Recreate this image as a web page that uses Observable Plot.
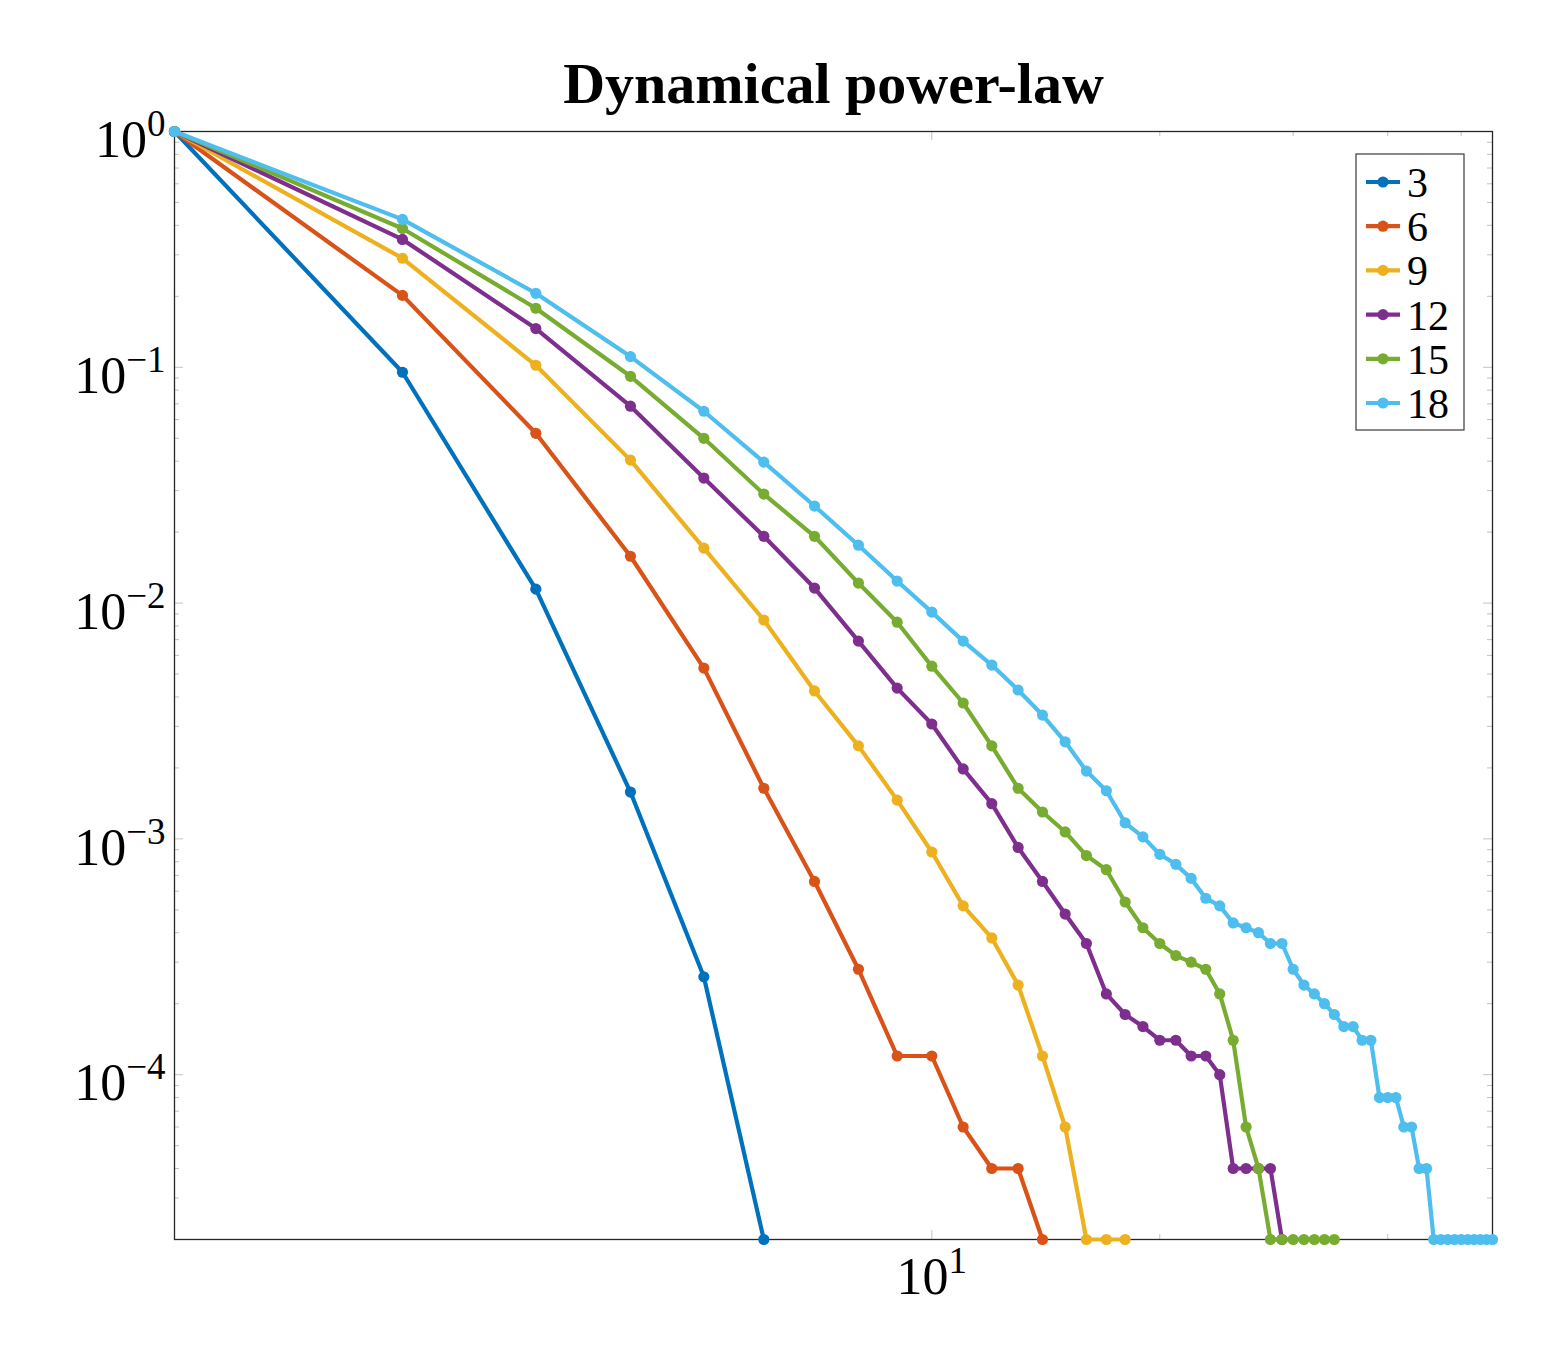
<!DOCTYPE html>
<html>
<head>
<meta charset="utf-8">
<script src="https://cdn.jsdelivr.net/npm/d3@7"></script>
<script src="https://cdn.jsdelivr.net/npm/@observablehq/plot@0.6"></script>
<style>
  body { margin: 0; background: #fff; }
  #chart { width: 1554px; height: 1360px; }
</style>
</head>
<body>
<div id="chart"></div>
<script>
// Series labels and their colours
const sizes = [3, 6, 9, 12, 15, 18];
const colors = ["#0072BD", "#D95319", "#EDB120", "#7E2F8E", "#77AC30", "#4DBEEE"];

// Probability at k = 1, 2, 3, ... for each series
const p3 = [1, 0.0953, 0.01146, 0.00158, 2.6e-4, 2e-5];
const p6 = [1, 0.2018, 0.0525, 0.0158, 0.0053, 0.00164, 6.6e-4, 2.8e-4, 1.2e-4, 1.2e-4,
  6e-5, 4e-5, 4e-5, 2e-5];
const p9 = [1, 0.290, 0.102, 0.0404, 0.0171, 0.00848, 0.00424, 0.00248, 0.00146, 8.8e-4,
  5.2e-4, 3.8e-4, 2.4e-4, 1.2e-4, 6e-5, 2e-5, 2e-5, 2e-5];
const p12 = [1, 0.3486, 0.146, 0.0684, 0.0339, 0.0192, 0.01158, 0.0069, 0.00436, 0.00307,
  0.00198, 0.00141, 9.2e-4, 6.6e-4, 4.8e-4, 3.6e-4, 2.2e-4, 1.8e-4, 1.6e-4, 1.4e-4,
  1.4e-4, 1.2e-4, 1.2e-4, 1e-4, 4e-5, 4e-5, 4e-5, 4e-5, 2e-5];
const p15 = [1, 0.388, 0.178, 0.0916, 0.050, 0.029, 0.0192, 0.01216, 0.0083, 0.0054,
  0.00377, 0.00248, 0.00164, 0.0013, 0.00107, 8.5e-4, 7.4e-4, 5.4e-4, 4.2e-4, 3.6e-4,
  3.2e-4, 3e-4, 2.8e-4, 2.2e-4, 1.4e-4, 6e-5, 4e-5, 2e-5, 2e-5, 2e-5,
  2e-5, 2e-5, 2e-5, 2e-5];
const p18 = [1, 0.424, 0.206, 0.111, 0.0651, 0.0396, 0.0258, 0.0176, 0.0124, 0.00916,
  0.0069, 0.00546, 0.00428, 0.00335, 0.00258, 0.00194, 0.0016, 0.00117, 0.00102, 8.6e-4,
  7.8e-4, 6.8e-4, 5.6e-4, 5.2e-4, 4.4e-4, 4.2e-4, 4e-4, 3.6e-4, 3.6e-4, 2.8e-4,
  2.4e-4, 2.2e-4, 2e-4, 1.8e-4, 1.6e-4, 1.6e-4, 1.4e-4, 1.4e-4, 8e-5, 8e-5,
  8e-5, 6e-5, 6e-5, 4e-5, 4e-5, 2e-5, 2e-5, 2e-5, 2e-5, 2e-5,
  2e-5, 2e-5, 2e-5, 2e-5, 2e-5];
const seriesValues = [p3, p6, p9, p12, p15, p18];

// Axis ticks
const xDomain = [1, 55];
const yDomain = [2e-5, 1];
const xMajor = [10];
const xMinor = [20, 30, 40, 50];
const yMajor = [1, 0.1, 0.01, 0.001, 0.0001];
const yMinor = [];
for (let e = -5; e < 0; e++) {
  for (let m = 2; m <= 9; m++) {
    const v = m * Math.pow(10, e);
    if (v > yDomain[0] && v < yDomain[1]) yMinor.push(v);
  }
}

const W = 1554, H = 1360;
const M = {left: 174, right: 62, top: 131, bottom: 121};
const fw = W - M.left - M.right;   // frame width
const fh = H - M.top - M.bottom;   // frame height
const tickColor = "#c2c2c2";
const majorLen = 9, minorLen = 5;
const lineW = 4.2, dotR = 5.6;
const fontFamily = "'Liberation Serif', serif";

const expFormat = d => `10^${Math.round(Math.log10(d))}`.replace("-", "\u2212");

const rows = seriesValues.map((vals, s) => vals.map((p, i) => ({k: i + 1, p, n: sizes[s]})));

const marks = [
  // inward ticks on the left and right edges
  Plot.tickY(yMajor, {y: d => d, stroke: tickColor, insetRight: fw - majorLen}),
  Plot.tickY(yMajor, {y: d => d, stroke: tickColor, insetLeft: fw - majorLen}),
  Plot.tickY(yMinor, {y: d => d, stroke: tickColor, insetRight: fw - minorLen}),
  Plot.tickY(yMinor, {y: d => d, stroke: tickColor, insetLeft: fw - minorLen}),
  // inward ticks on the bottom and top edges
  Plot.tickX(xMajor, {x: d => d, stroke: tickColor, insetTop: fh - majorLen}),
  Plot.tickX(xMajor, {x: d => d, stroke: tickColor, insetBottom: fh - majorLen}),
  Plot.tickX(xMinor, {x: d => d, stroke: tickColor, insetTop: fh - minorLen}),
  Plot.tickX(xMinor, {x: d => d, stroke: tickColor, insetBottom: fh - minorLen}),
  Plot.frame({stroke: "#262626", strokeWidth: 1.3}),
  Plot.axisY({ticks: yMajor, tickSize: 0, tickPadding: 9, tickFormat: expFormat, fontSize: 52, dy: 9, label: null}),
  Plot.axisX({ticks: xMajor, tickSize: 0, tickPadding: 18, tickFormat: expFormat, fontSize: 52, label: null}),
  Plot.text(["Dynamical power-law"], {frameAnchor: "top", lineAnchor: "middle", dy: -47, fontSize: 58, fontWeight: "bold"})
];

rows.forEach((data, s) => {
  marks.push(Plot.line(data, {x: "k", y: "p", stroke: colors[s], strokeWidth: lineW}));
  marks.push(Plot.dot(data, {x: "k", y: "p", r: dotR, fill: colors[s], stroke: "none"}));
});

const svg = Plot.plot({
  width: W,
  height: H,
  marginLeft: M.left,
  marginRight: M.right,
  marginTop: M.top,
  marginBottom: M.bottom,
  style: {fontFamily, background: "#fff", color: "#000"},
  x: {type: "log", domain: xDomain, axis: null},
  y: {type: "log", domain: yDomain, axis: null},
  marks
});

// Turn "10^e" tick labels into a base with a raised exponent
d3.select(svg).selectAll('g[aria-label="y-axis tick label"] text, g[aria-label="x-axis tick label"] text')
  .each(function () {
    const m = /^10\^(.*)$/.exec(this.textContent);
    if (!m) return;
    const sel = d3.select(this);
    sel.text("10");
    sel.append("tspan").attr("dy", -21).attr("font-size", 37).text(m[1]);
  });

// Legend box in the upper right corner
const lg = d3.select(svg).append("g").attr("font-family", fontFamily).attr("text-anchor", "start");
const lx = 1356, ly = 154, lw = 108, lh = 276, rowH = 44.2;
lg.append("rect").attr("x", lx).attr("y", ly).attr("width", lw).attr("height", lh)
  .attr("fill", "#fff").attr("stroke", "#3a3a3a").attr("stroke-width", 1.2);
sizes.forEach((n, i) => {
  const cy = ly + 28 + i * rowH;
  lg.append("line").attr("x1", lx + 10).attr("x2", lx + 44).attr("y1", cy).attr("y2", cy)
    .attr("stroke", colors[i]).attr("stroke-width", lineW);
  lg.append("circle").attr("cx", lx + 27).attr("cy", cy).attr("r", dotR).attr("fill", colors[i]);
  lg.append("text").attr("x", lx + 51).attr("y", cy + 15).attr("font-size", 42).text(n);
});

document.getElementById("chart").appendChild(svg);
</script>
</body>
</html>
